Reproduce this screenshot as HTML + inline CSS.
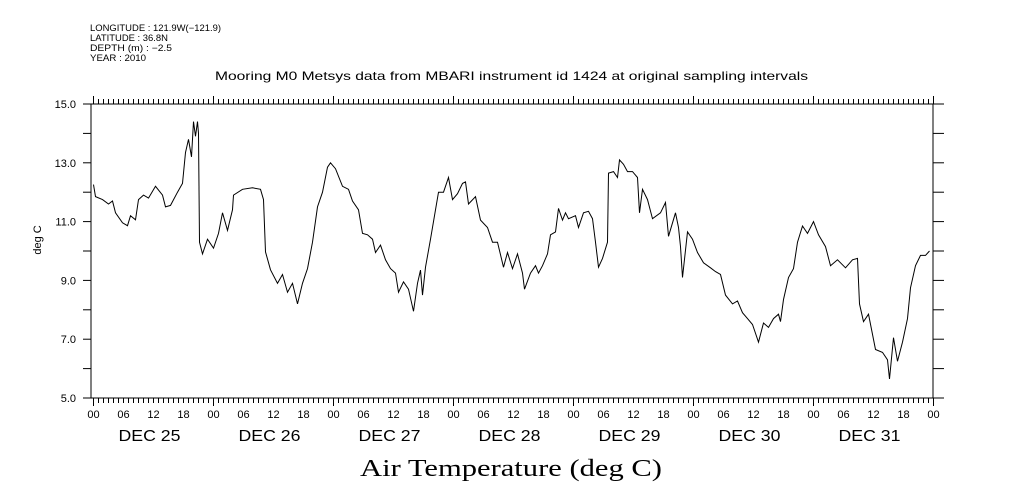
<!DOCTYPE html>
<html><head><meta charset="utf-8"><style>
body{margin:0;background:#fff;width:1009px;height:504px;overflow:hidden}
svg{display:block}
.s{font-family:"Liberation Sans",sans-serif;fill:#000}
</style></head><body>
<svg id="chart" width="1009" height="504" viewBox="0 0 1009 504">
<g class="s" font-size="9">
<text x="90" y="31" textLength="131" lengthAdjust="spacingAndGlyphs">LONGITUDE : 121.9W(−121.9)</text>
<text x="90" y="41" textLength="78" lengthAdjust="spacingAndGlyphs">LATITUDE : 36.8N</text>
<text x="90" y="51" textLength="82" lengthAdjust="spacingAndGlyphs">DEPTH (m) : −2.5</text>
<text x="90" y="61" textLength="56" lengthAdjust="spacingAndGlyphs">YEAR : 2010</text>
</g>
<text class="s" x="215" y="80" font-size="12" textLength="593" lengthAdjust="spacingAndGlyphs">Mooring M0 Metsys data from MBARI instrument id 1424 at original sampling intervals</text>
<text class="s" transform="translate(41,240) rotate(-90)" font-size="11" text-anchor="middle">deg C</text>
<text x="360" y="476" font-family="'Liberation Serif',serif" font-size="24" textLength="302" lengthAdjust="spacingAndGlyphs">Air Temperature (deg C)</text>
<rect x="91" y="104" width="842" height="294" fill="none" stroke="#000" stroke-width="1"/>
<g id="axes"></g>
<path id="line" fill="none" stroke="#000" stroke-width="1"/>
</svg>
<script>
const hours=[0,0.4,1.8,3,3.8,4.4,5.8,6.8,7.4,8.4,9,10,11,12.4,13.8,14.4,15.4,16.8,17.8,18.4,19,19.6,20,20.4,20.8,21,21.2,21.8,22.8,24,25,25.8,26.8,27.8,28,29.8,31.8,33.4,34,34.4,35.4,36.8,37.8,38.8,39.8,40.8,41.8,42.8,43.8,44.8,45.8,46.8,47.4,48.4,49.8,51,51.8,53,53.8,54.8,55.8,56.4,57.4,58.4,59.4,60.4,61,62,63,64,64.8,65.4,65.8,66.4,67.4,68.4,69,70,71,71.8,72.8,73.8,74.4,75,76.4,77.4,78.8,79.8,80.8,82,82.8,83.8,84.8,85.8,86.2,87.4,88.4,89,89.8,90.8,91.4,92.4,93,93.8,94.4,95,96.4,97,98,99,99.8,100.4,101,101.8,102.8,103,104,104.8,105.2,106,106.8,107.8,108.8,109.2,109.8,110.8,111.8,113.4,114.4,115,116.4,117,117.4,117.8,118.8,119.8,120.8,122,123.4,124.4,125.4,126.4,127.8,128.8,129.8,130.8,131.8,133,134,135,136,137,137.4,138,139,140,140.8,141.8,142.8,144,145,146.4,147.4,148.8,150.4,151.8,152.8,153.2,154,155,156.4,157.8,158.8,159.2,160,160.8,161.8,162.8,163.4,164.4,165.4,166.4,167.2];
const temps=[12.26,11.85,11.75,11.6,11.7,11.3,10.96,10.86,11.2,11.06,11.75,11.9,11.8,12.2,11.9,11.5,11.55,12.0,12.3,13.35,13.8,13.2,14.4,13.9,14.4,14.0,10.3,9.9,10.4,10.1,10.6,11.3,10.7,11.4,11.9,12.1,12.15,12.1,11.75,9.97,9.36,8.9,9.2,8.6,8.9,8.2,8.9,9.4,10.3,11.5,12.0,12.85,13.0,12.8,12.2,12.1,11.7,11.4,10.6,10.55,10.4,9.95,10.2,9.7,9.4,9.25,8.6,8.95,8.7,7.95,8.9,9.35,8.5,9.45,10.4,11.4,12.0,12.0,12.5,11.75,11.95,12.3,12.35,11.6,11.85,11.05,10.8,10.3,10.3,9.45,9.95,9.4,9.9,9.25,8.7,9.25,9.5,9.25,9.5,9.9,10.55,10.65,11.45,11.05,11.3,11.1,11.2,10.8,11.3,11.35,11.1,10.3,9.45,9.75,10.3,12.65,12.7,12.5,13.1,12.95,12.7,12.7,12.5,11.3,12.1,11.75,11.1,11.3,11.65,10.5,11.3,10.8,10.15,9.1,10.65,10.4,9.95,9.6,9.43,9.3,9.2,8.5,8.2,8.3,7.9,7.7,7.5,6.9,7.55,7.4,7.7,7.85,7.6,8.35,9.1,9.4,10.3,10.85,10.6,11.0,10.55,10.15,9.5,9.7,9.43,9.7,9.75,8.2,7.6,7.85,6.65,6.55,6.3,5.65,7.05,6.25,6.9,7.7,8.75,9.5,9.85,9.85,10.0];
const yTicks=[5,7,9,11,13,15];
const dayLabels=["DEC 25","DEC 26","DEC 27","DEC 28","DEC 29","DEC 30","DEC 31"];
const hourLabels=["00","06","12","18"];
const NS="http://www.w3.org/2000/svg";
const xs=h=>93.5+h*5;
const ys=t=>398-(t-5)*29.4;
const ax=document.getElementById('axes');
function mk(tag,a){const e=document.createElementNS(NS,tag);for(const k in a)e.setAttribute(k,a[k]);ax.appendChild(e);return e;}
for(let h=0;h<=168;h++){
  const x=xs(h),L=(h%24===0)?8:5;
  const b=mk('line',{x1:x,x2:x,y1:398,y2:398+L,stroke:'#000'});
  
  
  const t=mk('line',{x1:x,x2:x,y1:104,y2:104-L,stroke:'#000'});
  
  
  if(h%6===0){
    const tx=mk('text',{x:x,y:418,'font-size':11,'text-anchor':'middle','class':'s'});
    tx.textContent=hourLabels[(h%24)/6];
    
    
  }
}
dayLabels.forEach((d,i)=>{
  const tx=mk('text',{x:xs(i*24)+25,y:441,'font-size':16,textLength:62,lengthAdjust:'spacingAndGlyphs','class':'s'});
  tx.textContent=d;
  
  
});
for(let v=5;v<=15;v++){
  const y=ys(v);
  const l=mk('line',{x1:83,x2:91,y1:y,y2:y,stroke:'#000'});
  
  
  const r=mk('line',{x1:933,x2:944,y1:y,y2:y,stroke:'#000'});
  
  
}
yTicks.forEach(v=>{
  const tx=mk('text',{x:76,y:ys(v)+4,'font-size':11,'text-anchor':'end','class':'s'});
  tx.textContent=v.toFixed(1);
  
  
});
document.getElementById('line').setAttribute('d',hours.map((h,i)=>(i?'L':'M')+xs(h).toFixed(1)+','+ys(temps[i]).toFixed(1)).join(''));
</script>
</body></html>
